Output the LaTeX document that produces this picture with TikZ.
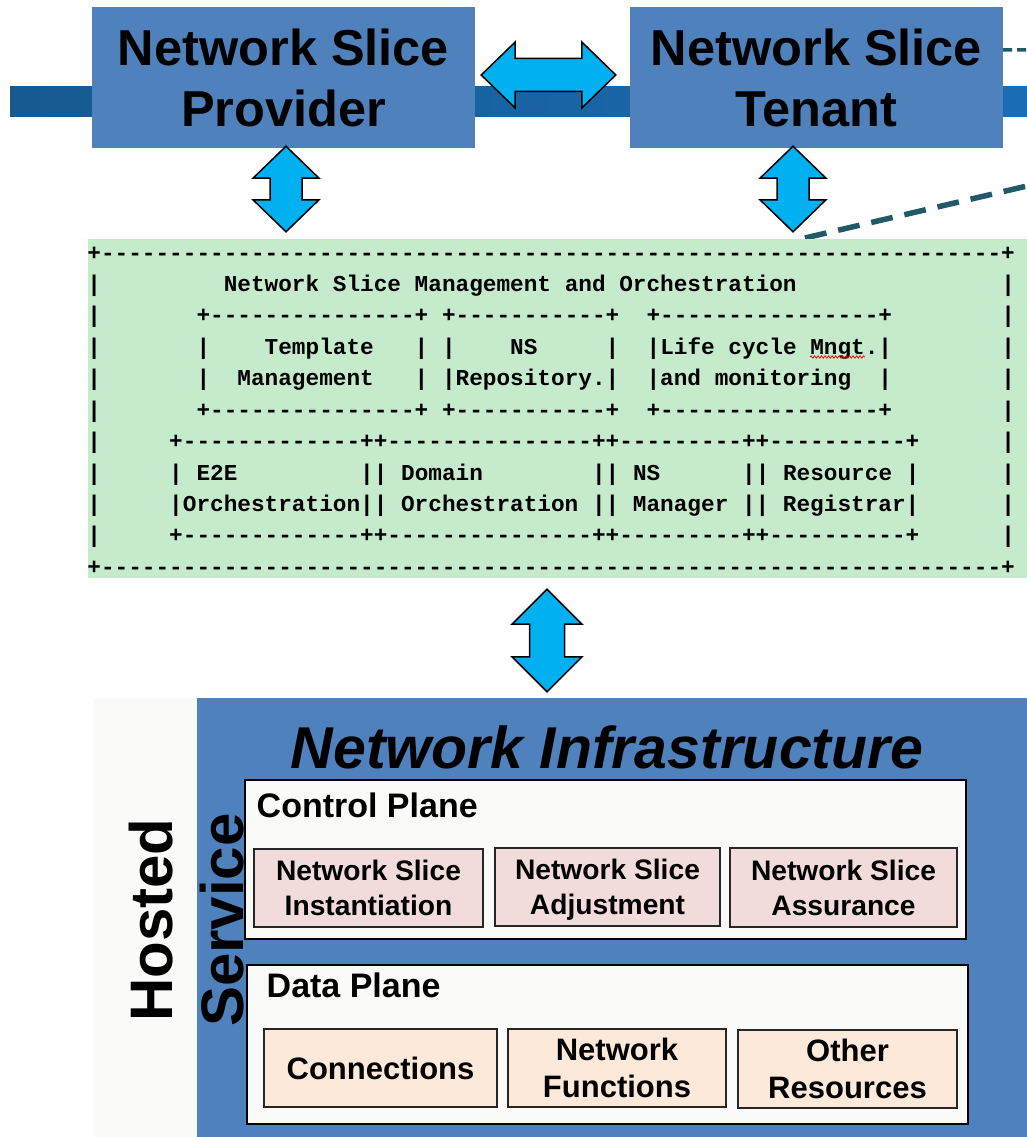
\documentclass[tikz,border=0pt]{standalone}
\usepackage{fontspec}
\setmainfont{Liberation Sans}
\setmonofont{Liberation Mono}
\usetikzlibrary{calc,decorations.pathmorphing}
\definecolor{boxblue}{RGB}{79,129,189}
\definecolor{banddark}{RGB}{23,90,145}
\definecolor{bandlight}{RGB}{26,108,181}
\definecolor{arrowcyan}{RGB}{0,176,240}
\definecolor{mgmtgreen}{RGB}{198,234,204}
\definecolor{planefill}{RGB}{250,250,248}
\definecolor{ctrlpink}{RGB}{242,220,219}
\definecolor{datapeach}{RGB}{253,233,217}
\definecolor{calloutteal}{RGB}{33,89,104}
\tikzset{role/.style={fill=boxblue,inner sep=0pt,align=center,text depth=0pt,
  font=\bfseries\fontsize{50.5}{61}\selectfont},
 fatarrow/.style={fill=arrowcyan,draw=black,line width=1.5pt,line join=miter},
 ascii/.style={anchor=base west,inner sep=0pt,
  font=\ttfamily\bfseries\fontsize{22.73}{31}\selectfont\frenchspacing\obeyspaces},
 plane/.style={draw=black,line width=2pt,fill=planefill,inner sep=0pt},
 planelabel/.style={anchor=base west,inner sep=0pt,font=\bfseries\fontsize{34}{40}\selectfont},
 ctrlbox/.style={draw=black!85,line width=2.2pt,fill=ctrlpink,inner sep=0pt,align=center,
  text depth=0pt,font=\bfseries\fontsize{28.2}{35}\selectfont},
 databox/.style={draw=black!85,line width=2.2pt,fill=datapeach,inner sep=0pt,align=center,
  text depth=0pt,font=\bfseries\fontsize{31}{37}\selectfont},
 sidelabel/.style={rotate=90,inner sep=0pt,text depth=0pt,font=\bfseries\fontsize{60}{70}\selectfont},
 callout/.style={draw=calloutteal,line width=5.5pt,dash pattern=on 22pt off 12pt}}
% block arrow: tip, tip, head length, head half width, shaft half width
\newcommand\fatarrow[5]{%
  \draw[fatarrow] (#1) -- ($(#1)!#3!(#2)!#4!90:(#2)$) -- ($(#1)!#3!(#2)!#5!90:(#2)$)
    -- ($(#2)!#3!(#1)!#5!-90:(#1)$) -- ($(#2)!#3!(#1)!#4!-90:(#1)$) -- (#2)
    -- ($(#2)!#3!(#1)!#4!90:(#1)$) -- ($(#2)!#3!(#1)!#5!90:(#1)$)
    -- ($(#1)!#3!(#2)!#5!-90:(#2)$) -- ($(#1)!#3!(#2)!#4!-90:(#2)$) -- cycle;}

\begin{document}
\begin{tikzpicture}[x=1pt,y=-1pt]
\useasboundingbox (0,0) rectangle (1027,1137);
\fill[left color=banddark,right color=bandlight] (10,87) rectangle (1027,117);
\node[role,minimum width=383pt,minimum height=141pt] (prov) at (283.5,77.5) {Network Slice\\Provider};
\node[role,minimum width=373pt,minimum height=141pt] (ten) at (816.5,77.5) {Network Slice\\Tenant};
\coordinate (c1) at ($(ten.north east)+(0,43)$);
\coordinate (c2) at (1027,50);
\coordinate (c3) at (805,238);
\coordinate (c4) at (1027,186);
\draw[callout,line width=3.5pt,dash pattern=on 9pt off 5pt] (c1) -- (c2);
\draw[callout] (c3) -- (c4);
\node[fill=mgmtgreen,minimum width=939pt,minimum height=339pt,inner sep=0pt] (nsmo) at (557.5,408.5) {};
\node[ascii] (l1) at (87.2,260) {+------------------------------------------------------------------+};
\node[ascii] (l2) at (87.2,291.4) {|         Network Slice Management and Orchestration               |};
\node[ascii] (l3) at (87.2,322.9) {|       +---------------+ +-----------+  +----------------+        |};
\node[ascii] (l4) at (87.2,354.3) {|       |    Template   | |    NS     |  |Life cycle Mngt.|        |};
\node[ascii] (l5) at (87.2,385.7) {|       |  Management   | |Repository.|  |and monitoring  |        |};
\node[ascii] (l6) at (87.2,417.2) {|       +---------------+ +-----------+  +----------------+        |};
\node[ascii] (l7) at (87.2,448.6) {|     +-------------++---------------++---------++----------+      |};
\node[ascii] (l8) at (87.2,480.0) {|     | E2E         || Domain        || NS      || Resource |      |};
\node[ascii] (l9) at (87.2,511.4) {|     |Orchestration|| Orchestration || Manager || Registrar|      |};
\node[ascii] (l10) at (87.2,542.9) {|     +-------------++---------------++---------++----------+      |};
\node[ascii] (l11) at (87.2,574.3) {+------------------------------------------------------------------+};
\draw[red,line width=0.7pt,decorate,decoration={snake,amplitude=1.2pt,segment length=3.5pt}]
  (810,357) -- (865,357);
\node[fill=planefill,minimum width=103pt,minimum height=439pt,inner sep=0pt] (hostbg) at (145.5,917.5) {};
\node[fill=boxblue,minimum width=830pt,minimum height=439pt,inner sep=0pt] (infra) at (612,917.5) {};
\node[anchor=base,inner sep=0pt,font=\bfseries\itshape\fontsize{59}{70}\selectfont] (infratitle) at (607,768) {Network Infrastructure};
\node[sidelabel] (hosted) at (150.5,920) {Hosted};
\node[plane,minimum width=721pt,minimum height=159pt] (cp) at (605.5,859.5) {};
\node[plane,minimum width=721pt,minimum height=159pt] (dp) at (607.5,1044.5) {};
\node[sidelabel] (service) at (221.5,920) {Service};
\node[planelabel] (cplabel) at (256.5,817) {Control Plane};
\node[planelabel] (dplabel) at (266.5,997) {Data Plane};
\node[ctrlbox,minimum width=229pt,minimum height=78pt] (inst) at (368.5,888) {Network Slice\\Instantiation};
\node[ctrlbox,minimum width=225pt,minimum height=78pt] (adj) at (607.5,887) {Network Slice\\Adjustment};
\node[ctrlbox,minimum width=227pt,minimum height=79pt] (assur) at (843.5,887.5) {Network Slice\\Assurance};
\node[databox,minimum width=233pt,minimum height=78pt] (conn) at (380.5,1068) {Connections};
\node[databox,minimum width=218pt,minimum height=78pt] (nf) at (617,1068) {Network\\Functions};
\node[databox,minimum width=219pt,minimum height=78pt] (other) at (847.5,1069) {Other\\Resources};
\coordinate (h1) at ($(prov.east)+(6,-2.5)$);
\coordinate (h2) at ($(ten.west)+(-14,-2.5)$);
\coordinate (p1) at ($(prov.south)+(2.5,-2)$);
\coordinate (p2) at ($(prov.south |- nsmo.north)+(2.5,-7)$);
\coordinate (t1) at ($(ten.south)+(-23.5,-2)$);
\coordinate (t2) at ($(ten.south |- nsmo.north)+(-23.5,-7)$);
\coordinate (i1) at ($(nsmo.south)+(-10.5,11)$);
\coordinate (i2) at ($(nsmo.south |- infra.north)+(-10.5,-6)$);
\fatarrow{h1}{h2}{34pt}{33pt}{16.5pt}
\fatarrow{p1}{p2}{32pt}{33pt}{16pt}
\fatarrow{t1}{t2}{32pt}{33pt}{16pt}
\fatarrow{i1}{i2}{35pt}{35pt}{17.5pt}
\end{tikzpicture}
\end{document}
